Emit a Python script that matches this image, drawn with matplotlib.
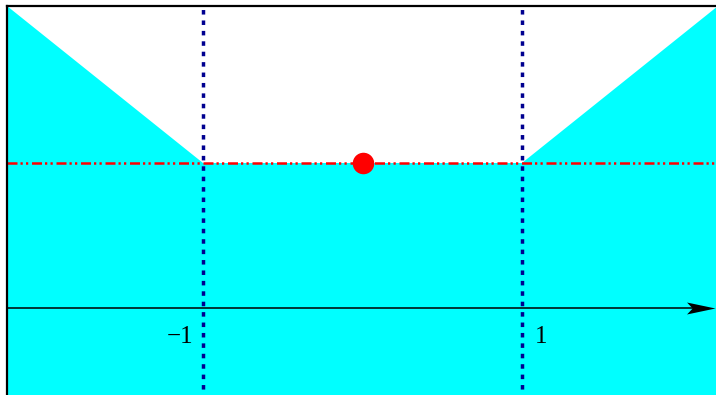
import matplotlib
matplotlib.use("Agg")
import matplotlib.pyplot as plt
from matplotlib.path import Path
import numpy as np

# Piecewise-linear upper boundary of the shaded region
x_knots = [-2.229, -1.0, 1.0, 2.229]
y_knots = [2.083, 1.0, 1.0, 2.083]
level = 1.0            # flat level between the two kinks
min_point = (0.0, 1.0) # highlighted point on the flat part
kinks = [-1.0, 1.0]
tick_text = ["\u22121", "1"]

W, H = 716, 395
fig = plt.figure(figsize=(W / 100, H / 100), dpi=100)

# data -> pixel mapping: x_px = 362.5 + 159.5 x ; y_px(from top) = 308 - 145 y
xlim = (-2.229, 2.5)
ylim = (-0.8, 2.083)
x0_px = 362.5 + 159.5 * xlim[0]
x1_px = 362.5 + 159.5 * xlim[1]
ytop_px = 308 - 145 * ylim[1]
ybot_px = 308 - 145 * ylim[0]
ax = fig.add_axes([x0_px / W, (H - ybot_px) / H,
                   (x1_px - x0_px) / W, (ybot_px - ytop_px) / H])
ax.set_xlim(*xlim)
ax.set_ylim(*ylim)
ax.set_xticks([])
ax.set_yticks([])
ax.patch.set_alpha(0)
for side in ("right", "bottom"):
    ax.spines[side].set_visible(False)
for side in ("left", "top"):
    ax.spines[side].set_linewidth(1.6)
    ax.spines[side].set_color("black")
    ax.spines[side].set_zorder(10)

# shaded region below the boundary
xs = np.array(x_knots)
ys = np.array(y_knots)
ax.fill_between(xs, ylim[0], ys, color="#00ffff", lw=0, zorder=1)

# horizontal axis with arrow head
x_tip = (715 - 362.5) / 159.5
ax.plot([xlim[0], x_tip - 0.05], [0, 0], color="black", lw=1.1, zorder=3)
head = Path([(0, 0), (-1, 0.21), (-0.8, 0), (-1, -0.21), (0, 0)],
            [Path.MOVETO, Path.LINETO, Path.LINETO, Path.LINETO, Path.CLOSEPOLY])
ax.plot([x_tip], [0], marker=head, ms=41, color="black", mec="black",
        mew=0, zorder=4, clip_on=False)

# level line (dash-dot-dot)
ax.axhline(level, color="red", lw=1.8,
           linestyle=(0, (4.0, 1.2, 0.9, 1.3, 0.9, 1.5)), zorder=5)

# vertical dotted lines at the kinks
for k in kinks:
    ax.axvline(k, color="#000090", lw=2.5,
               linestyle=(1.0, (1.3, 1.7)), zorder=6)

# point on the flat part
ax.plot([min_point[0]], [min_point[1]], "o", color="red", ms=15.5,
        mew=0, zorder=7)

# tick labels beside the dotted lines
serif = ["Liberation Serif", "DejaVu Serif"]
ax.annotate(tick_text[0], xy=(kinks[0], 0), xytext=(-7, -13),
            textcoords="offset points", ha="right", va="top",
            fontsize=18, family=serif, zorder=8)
ax.annotate(tick_text[1], xy=(kinks[1], 0), xytext=(9, -13),
            textcoords="offset points", ha="left", va="top",
            fontsize=18, family=serif, zorder=8)

fig.savefig("out.png", dpi=100)
